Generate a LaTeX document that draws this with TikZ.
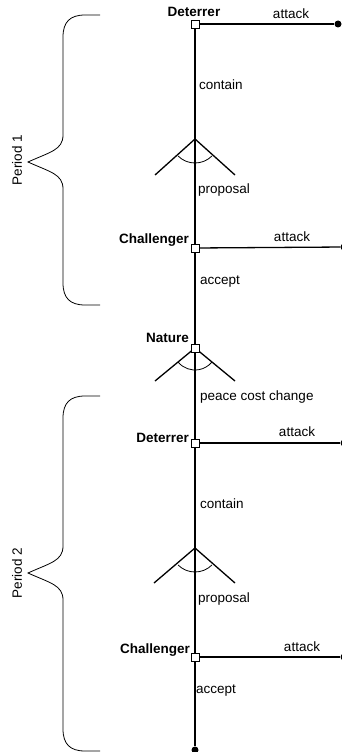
\documentclass[tikz,border=0pt]{standalone}
\usepackage{fontspec}
\setmainfont{Liberation Sans}
\begin{document}
\begin{tikzpicture}[x=1pt,y=1pt,
  lbl/.style={font=\fontsize{13.5}{16}\selectfont, inner sep=0pt},
  plbl/.style={lbl, font=\fontsize{13.5}{16}\selectfont\bfseries},
  sq/.style={draw, fill=white, minimum size=8pt, inner sep=0pt, line width=0.9pt},
  dot/.style={circle, fill=black, minimum size=7pt, inner sep=0pt},
  edge/.style={line width=1.3pt},
  fan/.style={line width=1.3pt},
  brace/.style={line width=0.8pt}]
\useasboundingbox (0,0) rectangle (341,-752);

% coordinates of fans
\coordinate (f1) at (195,-139);
\coordinate (f3) at (195,-548);

% end nodes
\node[dot] (e1) at (338,-24) {};
\node[dot] (e2) at (344,-247) {};
\node[dot] (e3) at (344,-443) {};
\node[dot] (e4) at (344,-657) {};
\node[dot] (bot) at (195,-750) {};

% player nodes (drawn later on top)
\coordinate (d1c) at (195,-24);
\coordinate (c1c) at (195,-248);
\coordinate (n1c) at (195,-348);
\coordinate (d2c) at (195,-443);
\coordinate (c2c) at (195,-657);

% main line
\draw[edge] (d1c) -- (c1c) -- (n1c) -- (d2c) -- (c2c) -- (bot);
% attack lines
\draw[edge] (d1c) -- (e1);
\draw[edge] (c1c) -- (e2);
\draw[edge] (d2c) -- (e3);
\draw[edge] (c2c) -- (e4);

% fans
\draw[fan] (f1) -- ++(-40,-36) (f1) -- ++(40,-36);
\draw[brace] (f1) ++(225:24pt) arc[start angle=225, end angle=315, radius=24pt];
\draw[fan] (n1c) -- ++(-40,-33) (n1c) -- ++(40,-33);
\draw[brace] (n1c) ++(220:22pt) arc[start angle=220, end angle=320, radius=22pt];
\draw[fan] (f3) -- ++(-41,-35) (f3) -- ++(40,-35);
\draw[brace] (f3) ++(225:24pt) arc[start angle=225, end angle=315, radius=24pt];

% squares
\node[sq] (d1) at (d1c) {};
\node[sq] (c1) at (c1c) {};
\node[sq] (n1) at (n1c) {};
\node[sq] (d2) at (d2c) {};
\node[sq] (c2) at (c2c) {};

% player labels
\node[plbl] (ld1) at (194,-12) {Deterrer};
\node[plbl, anchor=east] (lc1) at (189,-240) {Challenger};
\node[plbl, anchor=east] (ln1) at (189,-338) {Nature};
\node[plbl, anchor=east] (ld2) at (189,-438) {Deterrer};
\node[plbl, anchor=east] (lc2) at (190,-650) {Challenger};

% action labels
\node[lbl] (a1) at (291,-14) {attack};
\node[lbl] (a2) at (292,-237) {attack};
\node[lbl] (a3) at (297,-432) {attack};
\node[lbl] (a4) at (302,-647) {attack};
\node[lbl, anchor=west] (k1) at (199,-85) {contain};
\node[lbl, anchor=west] (p1) at (198,-190) {proposal};
\node[lbl, anchor=west] (ac1) at (200,-282) {accept};
\node[lbl, anchor=west] (pc) at (200,-397) {peace cost change};
\node[lbl, anchor=west] (k2) at (200,-504) {contain};
\node[lbl, anchor=west] (p2) at (198,-599) {proposal};
\node[lbl, anchor=west] (ac2) at (196,-691) {accept};

% braces
\draw[brace] (100,-15) -- (85,-15) .. controls (70,-15) and (63,-22) .. (63,-37)
  -- (63,-135) .. controls (63,-150) and (50,-152) .. (28,-162)
  .. controls (50,-172) and (63,-174) .. (63,-189)
  -- (63,-283) .. controls (63,-298) and (70,-305) .. (85,-305) -- (100,-305);
\node[lbl, rotate=90] (per1) at (17,-160) {Period 1};

\draw[brace] (100,-396) -- (85,-396) .. controls (70,-396) and (63,-403) .. (63,-418)
  -- (63,-546) .. controls (63,-561) and (50,-563) .. (28,-573)
  .. controls (50,-583) and (63,-585) .. (63,-600)
  -- (63,-729) .. controls (63,-744) and (70,-751) .. (85,-751) -- (100,-751);
\node[lbl, rotate=90] (per2) at (17,-573) {Period 2};
\end{tikzpicture}
\end{document}
